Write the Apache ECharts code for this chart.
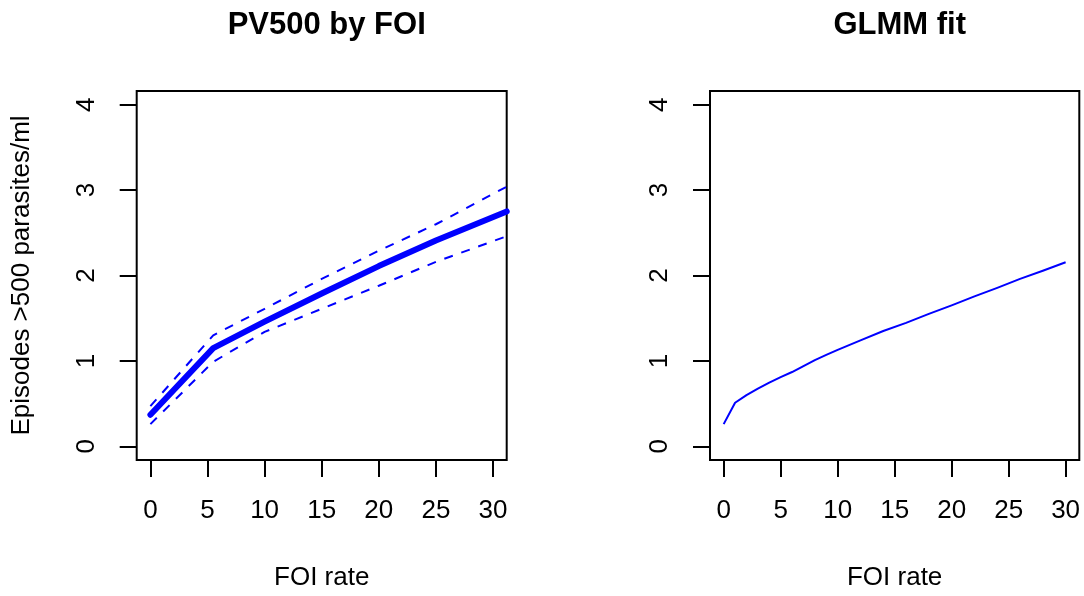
<!DOCTYPE html>
<html>
<head>
<meta charset="utf-8">
<script src="https://cdn.jsdelivr.net/npm/echarts@6/dist/echarts.min.js"></script>
<style>
html,body{margin:0;padding:0;background:#fff;}
#chart{width:1084px;height:596px;}
</style>
</head>
<body>
<div id="chart"></div>
<script>
// ---- data ----
const xTicks = [0, 5, 10, 15, 20, 25, 30];
const yTicks = [0, 1, 2, 3, 4];

// Left panel: PV500 by FOI (fit with upper/lower bounds)
const pvX     = [0, 5.5, 10, 15, 20, 25, 31.2];
const pvFit   = [0.37, 1.15, 1.46, 1.79, 2.11, 2.41, 2.75];
const pvUpper = [0.47, 1.30, 1.61, 1.96, 2.29, 2.60, 3.04];
const pvLower = [0.26, 0.99, 1.34, 1.61, 1.88, 2.16, 2.46];

// Right panel: GLMM fit
const glmmX = [0, 1, 2, 3, 4, 5, 6, 7, 8, 9, 10, 12, 14, 16, 18, 20, 22, 24, 26, 28, 30];
const glmmY = [0.26, 0.51, 0.60, 0.675, 0.745, 0.81, 0.87, 0.94, 1.01, 1.07, 1.13, 1.24, 1.35, 1.445, 1.55, 1.65, 1.755, 1.855, 1.96, 2.055, 2.155];

const titles = ['PV500 by FOI', 'GLMM fit'];
const xName = 'FOI rate';
const yName = 'Episodes >500 parasites/ml';

// ---- chart ----
const pairs = (xs, ys) => xs.map((x, i) => [x, ys[i]]);
const FONT = 'Liberation Sans, Arial, Helvetica, sans-serif';
const BLUE = '#0000ff';

function xAxis(gi) {
  return {
    type: 'value', gridIndex: gi, min: -1.2, max: 31.2, position: 'bottom',
    axisLine: { show: false, onZero: false },
    splitLine: { show: false },
    axisTick: { show: true, length: 17, inside: false, customValues: xTicks,
                lineStyle: { color: '#000', width: 2 } },
    axisLabel: { show: true, customValues: xTicks, margin: 38,
                 color: '#000', fontSize: 26, fontFamily: FONT },
    name: xName, nameLocation: 'middle', nameGap: 105,
    nameTextStyle: { color: '#000', fontSize: 26, fontFamily: FONT }
  };
}
function yAxis(gi, withName) {
  return {
    type: 'value', gridIndex: gi, min: -0.16, max: 4.16, position: 'left',
    axisLine: { show: false, onZero: false },
    splitLine: { show: false },
    axisTick: { show: true, length: 17, inside: false, customValues: yTicks,
                lineStyle: { color: '#000', width: 2 } },
    axisLabel: { show: true, customValues: yTicks, margin: 37, rotate: 90,
                 color: '#000', fontSize: 26, fontFamily: FONT },
    name: withName ? yName : '', nameLocation: 'middle', nameGap: 102,
    nameTextStyle: { color: '#000', fontSize: 26, fontFamily: FONT }
  };
}

const gridBase = { top: 91, width: 370, height: 370.7, show: true,
                   borderColor: '#000', borderWidth: 2, backgroundColor: 'transparent' };

const option = {
  animation: false,
  backgroundColor: '#fff',
  title: [
    { text: titles[0], left: 321.7, top: 5, textAlign: 'center',
      textStyle: { fontSize: 31, fontWeight: 'bold', color: '#000', fontFamily: FONT } },
    { text: titles[1], left: 894.7, top: 5, textAlign: 'center',
      textStyle: { fontSize: 31, fontWeight: 'bold', color: '#000', fontFamily: FONT } }
  ],
  grid: [
    Object.assign({ left: 136.7 }, gridBase),
    Object.assign({ left: 710 }, gridBase, { width: 369.3 })
  ],
  xAxis: [xAxis(0), xAxis(1)],
  yAxis: [yAxis(0, true), yAxis(1, false)],
  series: [
    { type: 'line', xAxisIndex: 0, yAxisIndex: 0, data: pairs(pvX, pvFit),
      showSymbol: false, clip: true,
      lineStyle: { color: BLUE, width: 6, cap: 'round', join: 'round' } },
    { type: 'line', xAxisIndex: 0, yAxisIndex: 0, data: pairs(pvX, pvUpper),
      showSymbol: false, clip: true,
      lineStyle: { color: BLUE, width: 2, type: [9, 9] } },
    { type: 'line', xAxisIndex: 0, yAxisIndex: 0, data: pairs(pvX, pvLower),
      showSymbol: false, clip: true,
      lineStyle: { color: BLUE, width: 2, type: [9, 9] } },
    { type: 'line', xAxisIndex: 1, yAxisIndex: 1, data: pairs(glmmX, glmmY),
      showSymbol: false, clip: true,
      lineStyle: { color: BLUE, width: 2, join: 'round' } }
  ]
};

const chart = echarts.init(document.getElementById('chart'), null, { renderer: 'canvas' });
chart.setOption(option);
</script>
</body>
</html>
